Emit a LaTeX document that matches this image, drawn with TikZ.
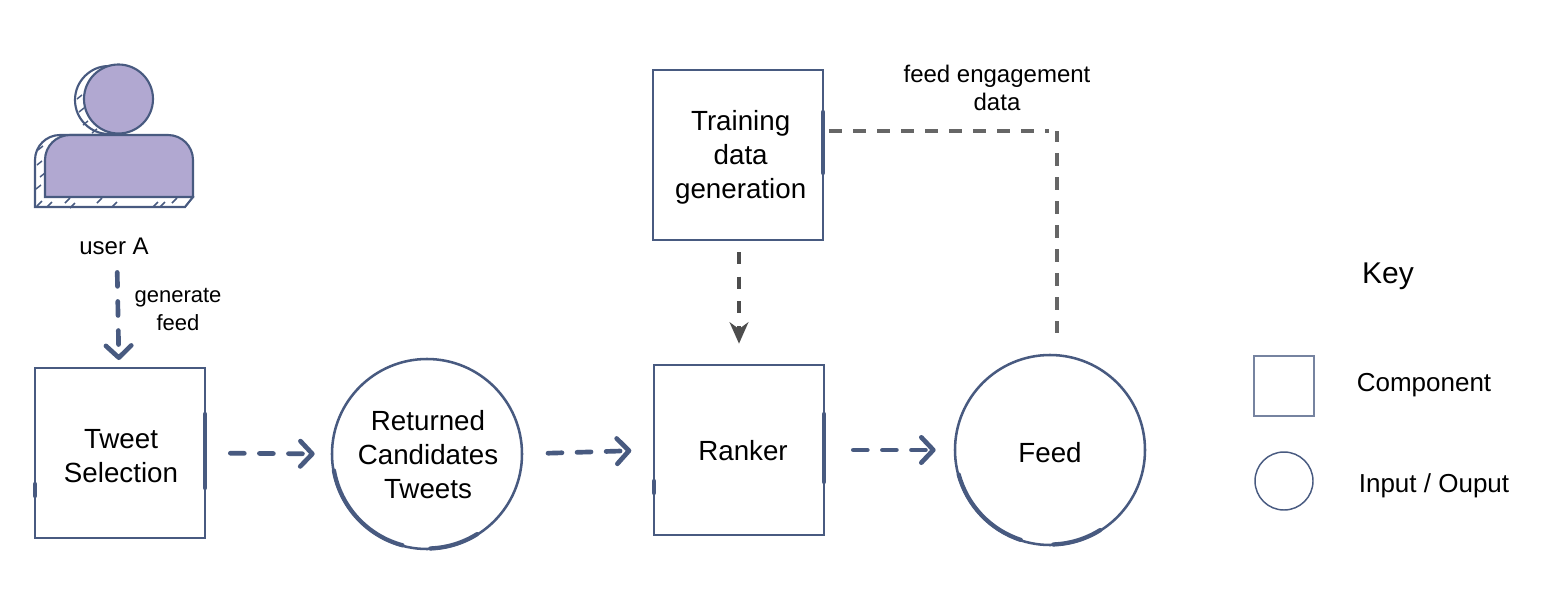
\documentclass[tikz,border=0pt]{standalone}
\usepackage{fontspec}
\setmainfont{Liberation Sans}
\usetikzlibrary{arrows.meta}
\definecolor{StrokeCol}{RGB}{72,90,128}
\definecolor{FillCol}{RGB}{177,168,209}
\definecolor{DashCol}{RGB}{102,102,102}
\definecolor{TipCol}{RGB}{77,77,77}
\tikzset{
    compbox/.style={draw=StrokeCol,line width=1.9pt,outer sep=0pt,minimum size=127.5pt,inner sep=0pt,align=center,font=\fontsize{20.8}{25.5}\selectfont},
    iocircle/.style={compbox,circle,minimum size=142.5pt},
    smalltext/.style={align=center,font=\fontsize{16.5}{21}\selectfont},
    widetext/.style={align=center,font=\fontsize{18}{21}\selectfont},
    keytext/.style={font=\fontsize{19.5}{23}\selectfont},
    flowarrow/.style={draw=StrokeCol,line width=3.5pt,line cap=round,dash pattern=on 10.5pt off 11.3pt,-{Straight Barb[length=9pt,width=19pt,round,line width=3.5pt]}},
    grayline/.style={draw=DashCol,line width=3pt,dash pattern=on 9.5pt off 8.5pt},
    thickline/.style={draw=StrokeCol,line width=3.2pt,line cap=round},
    hatch/.style={draw=StrokeCol,line width=1.1pt}
}
\begin{document}
\begin{tikzpicture}[x=0.75pt,y=-0.75pt]
            \useasboundingbox (0,0) rectangle (1557,589);

            % user icon
            \draw[draw=StrokeCol,line width=1.6pt,fill=white] (35,207) -- (35,160) arc[start angle=180,end angle=270,radius=25] -- (100,135) -- (193,197) -- (185,207) -- cycle;
            \draw[draw=StrokeCol,line width=1.6pt,fill=white] (109,100) circle (34);
            \foreach \xa/\ya in {77/99,79/112,83/125,92/133,38/150,37/165,40/177,36/189}
                \draw[hatch] (\xa,\ya) -- +(5,-4);
            \foreach \xa/\ya in {37/210,47/211,65/207,70/212,97/207,112/211,153/211,160/211,172/207}
                \draw[hatch] (\xa,\ya-4) -- +(5,-5);
            \draw[draw=StrokeCol,line width=1.6pt,fill=FillCol] (45,197) -- (45,160) arc[start angle=180,end angle=270,radius=25] -- (168,135) arc[start angle=270,end angle=360,radius=25] -- (193,197) -- cycle;
            \draw[draw=StrokeCol,line width=1.6pt,fill=FillCol] (118.5,99) circle (34.5);

            \node[widetext] (userA) at (114,246) {user A};
            \node[smalltext] (genfeed) at (178,309) {generate\\feed};
            \node[widetext] (engage) at (997,88) {feed engagement\\data};

            \node[compbox] (select) at (120,453) {\rule{0pt}{19.5pt}\hspace{1.5pt}Tweet\\\hspace{1.5pt}Selection};
            \node[iocircle] (cand) at (427,454) {\rule{0pt}{16.5pt}\hspace{1.5pt}Returned\\\hspace{1.5pt}Candidates\\\hspace{1.5pt}Tweets};
            \node[compbox] (rank) at (739,450) {\rule{0pt}{16.5pt}\hspace{6pt}Ranker};
            \node[iocircle] (feed) at (1050,450) {\rule{0pt}{19.4pt}Feed};
            \node[compbox] (train) at (738,155) {\rule{0pt}{18pt}\hspace{4pt}Training\\\hspace{4pt}data\\\hspace{4pt}generation};

            \node[keytext,font=\fontsize{22.5}{25}\selectfont] (keyhead) at (1388,276) {Key};
            \node[draw=StrokeCol!75,line width=0.8pt,minimum size=45pt,inner sep=0pt] (keybox) at (1284,386) {};
            \node[draw=StrokeCol,line width=1.1pt,circle,minimum size=43.5pt,inner sep=0pt] (keycircle) at (1284,481) {};
            \node[keytext] (keycomp) at (1424,385.5) {Component};
            \node[keytext] (keyio) at (1434,485.5) {Input / Ouput};

            % heavier strokes along the sketched outlines
            \draw[thickline] (select.north east) ++(0,46) -- ++(0,74);
            \draw[thickline] (select.north west) ++(0,116) -- ++(0,12);
            \draw[thickline] (rank.north east) ++(0,49) -- ++(0,68);
            \draw[thickline] (rank.north west) ++(0,116) -- ++(0,12);
            \draw[thickline] (train.north east) ++(0,42) -- ++(0,61);
            \draw[thickline] (cand) ++(170:94.5) arc[start angle=170,end angle=105,radius=94.5];
            \draw[thickline] (feed) ++(165:94.5) arc[start angle=165,end angle=108,radius=94.5];
            \draw[thickline] (cand) ++(88:94.5) arc[start angle=88,end angle=58,radius=94.5];
            \draw[thickline] (feed) ++(88:94.5) arc[start angle=88,end angle=58,radius=94.5];

            \draw[flowarrow,shorten <=10pt,shorten >=6pt] (userA.south-|117,0) -- (select.north-|119,0);
            \draw[flowarrow,shorten <=19pt,shorten >=13pt] (select.east) -- (cand.west);
            \draw[flowarrow,shorten <=19.5pt,shorten >=17pt] (cand.east) -- (rank.west);
            \draw[flowarrow,shorten <=22pt,shorten >=14.5pt] (rank.east) -- (feed.west);

            \coordinate (bend) at (1057,131);
            \draw[grayline,shorten <=4.5pt,shorten >=6pt] (train.east|-bend) -- (bend);
            \draw[grayline,dash phase=1.5pt,shorten >=16.5pt] (bend) -- (feed.north-|bend);
            \draw[draw=TipCol,line width=3pt,dash pattern=on 9pt off 9.5pt,-{Stealth[length=16pt,width=14pt,inset=5pt]},shorten <=9pt,shorten >=16pt] (train.south-|739,0) -- (rank.north);
        \end{tikzpicture}
\end{document}
